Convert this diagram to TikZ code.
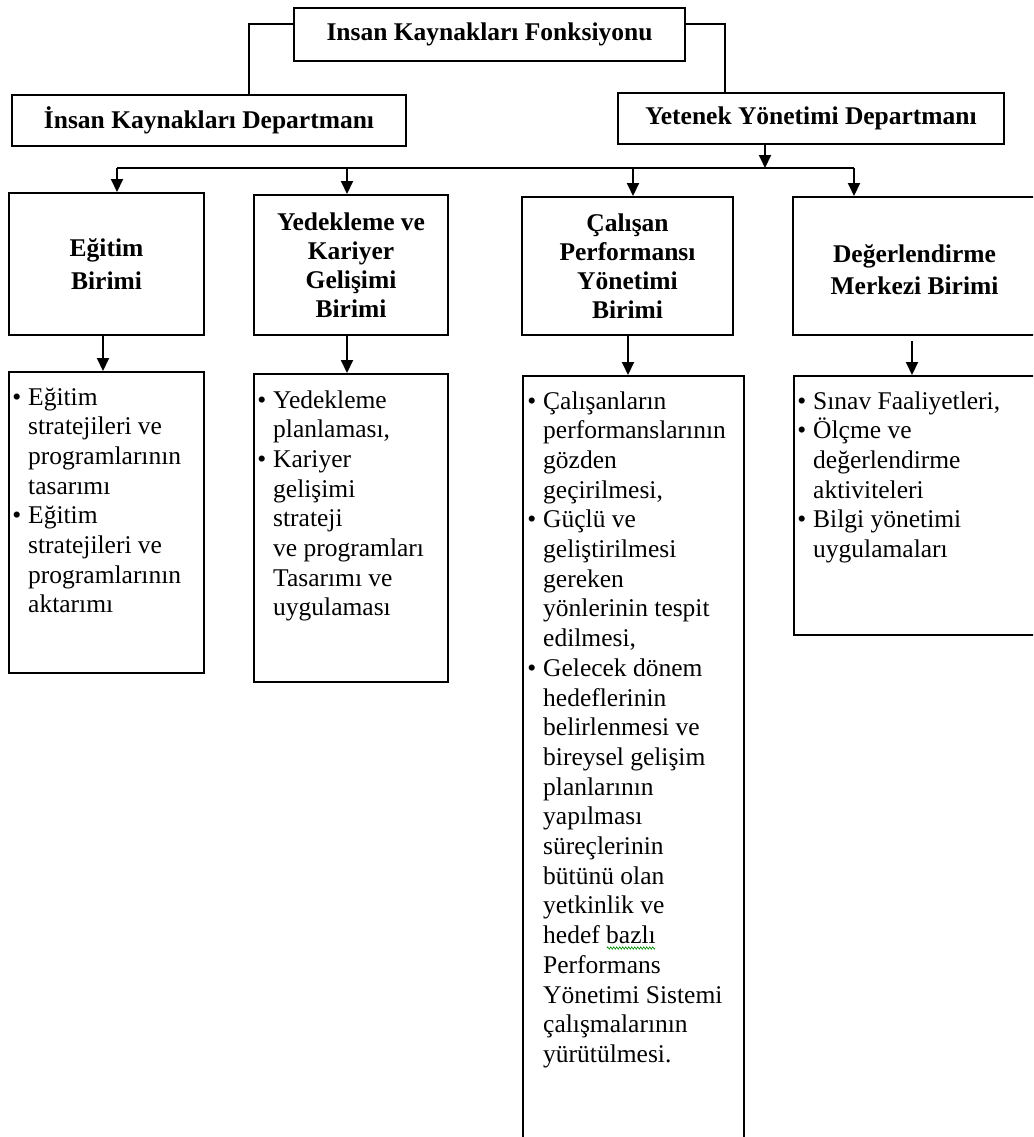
\documentclass[tikz,border=0pt]{standalone}
\usepackage{fontspec}
\setmainfont{Liberation Serif}
\usetikzlibrary{arrows.meta,decorations.pathmorphing}

% bullet hung into the left margin of a list line
\newcommand\itm{\leavevmode\llap{\textbullet\hspace{7pt}}}

\begin{document}
\begin{tikzpicture}[x=1pt,y=-1pt,
  box/.style={draw, line width=2pt, rectangle, inner sep=0pt, align=center,
    font=\bfseries\fontsize{25.5}{29}\selectfont},
  link/.style={line width=2pt},
  arr/.style={line width=2pt, -{Triangle[width=12pt,length=13pt]}},
  body/.style={anchor=base west, inner sep=0pt, font=\fontsize{25.5}{29.7}\selectfont},
]
\useasboundingbox (0,0) rectangle (1033,1137);
\clip (0,0) rectangle (1033,1137);

% top level
\node[box, minimum width=391pt, minimum height=53pt] (title) at (489.5,34.5) {Insan Kaynakları Fonksiyonu};
\node[box, minimum width=394pt, minimum height=51pt] (ik) at (209,120.5) {İnsan Kaynakları Departmanı};
\node[box, minimum width=386pt, minimum height=51pt] (yd) at (811,118.5) {Yetenek Yönetimi Departmanı};

% units
\node[box, minimum width=195pt, minimum height=142pt, font=\bfseries\fontsize{25.5}{32.5}\selectfont] (u1) at (106.5,264) {Eğitim\\Birimi};
\node[box, minimum width=194pt, minimum height=140pt] (u2) at (351,265) {Yedekleme ve\\Kariyer\\Gelişimi\\Birimi};
\node[box, minimum width=211pt, minimum height=138pt] (u3) at (627.5,266) {Çalışan\\Performansı\\Yönetimi\\Birimi};
\node[box, minimum width=243pt, minimum height=138pt] (u4) at (914.5,266) {};
\node[font=\bfseries\fontsize{25.5}{32}\selectfont, align=center, inner sep=0pt] (u4t) at ([yshift=-4pt]u4.center) {Değerlendirme\\Merkezi Birimi};

% task boxes
\node[box, minimum width=195pt, minimum height=301pt] (d1) at (106.5,522.5) {};
\node[box, minimum width=194pt, minimum height=308pt] (d2) at (351,528) {};
\node[box, minimum width=221pt, minimum height=774pt] (d3) at (633.5,763) {};
\node[box, minimum width=242pt, minimum height=259pt] (d4) at (915,505.5) {};

% task texts
\node[body] (t1) at (28,405) {\parbox[t]{172pt}{\raggedright
\itm Eğitim\\
stratejileri ve\\
programlarının\\
tasarımı\\
\itm Eğitim\\
stratejileri ve\\
programlarının\\
aktarımı}};

\node[body] (t2) at (273,408) {\parbox[t]{172pt}{\raggedright
\itm Yedekleme\\
planlaması,\\
\itm Kariyer\\
gelişimi\\
strateji\\
ve programları\\
Tasarımı ve\\
uygulaması}};

\node[body] (t3) at (543,409) {\parbox[t]{198pt}{\raggedright
\itm Çalışanların\\
performanslarının\\
gözden\\
geçirilmesi,\\
\itm Güçlü ve\\
geliştirilmesi\\
gereken\\
yönlerinin tespit\\
edilmesi,\\
\itm Gelecek dönem\\
hedeflerinin\\
belirlenmesi ve\\
bireysel gelişim\\
planlarının\\
yapılması\\
süreçlerinin\\
bütünü olan\\
yetkinlik ve\\
hedef bazlı\\
Performans\\
Yönetimi Sistemi\\
çalışmalarının\\
yürütülmesi.}};

\node[body] (t4) at (813,409) {\parbox[t]{220pt}{\raggedright
\itm Sınav Faaliyetleri,\\
\itm Ölçme ve\\
değerlendirme\\
aktiviteleri\\
\itm Bilgi yönetimi\\
uygulamaları}};

% spell-check squiggle under "bazlı"
\draw[green!55!black, line width=0.6pt, decorate,
  decoration={zigzag, amplitude=1.2pt, segment length=3pt}] (607,948) -- (655,948);

% connectors from the function box to the departments
\draw[link] ([yshift=10pt]title.west) -| ([xshift=40pt]ik.north);
\draw[link] ([yshift=10pt]title.east) -| ([xshift=-86pt]yd.north);

% distribution bar under the talent department
\coordinate (b1) at (117,168);
\coordinate (b2) at (347,168);
\coordinate (b3) at (633,168);
\coordinate (b4) at (854,168);
\coordinate (bj) at (765,168);
\draw[link] (b1) -- (b4);
\draw[arr] (yd.south -| bj) -- (bj);
\draw[arr] (b1) -- (b1 |- u1.north);
\draw[arr] (b2) -- (b2 |- u2.north);
\draw[arr] (b3) -- (b3 |- u3.north);
\draw[arr] (b4) -- (b4 |- u4.north);

% units to their tasks
\draw[arr] ([xshift=-3.5pt]u1.south) -- ([xshift=-3.5pt]d1.north);
\draw[arr] ([xshift=-4pt]u2.south) -- ([xshift=-4pt]d2.north);
\draw[arr] ([xshift=0.5pt]u3.south) -- ([xshift=-5.5pt]d3.north);
\draw[arr] ([xshift=-2.5pt,yshift=-5pt]u4.south) -- ([xshift=-3pt]d4.north);
\end{tikzpicture}
\end{document}
